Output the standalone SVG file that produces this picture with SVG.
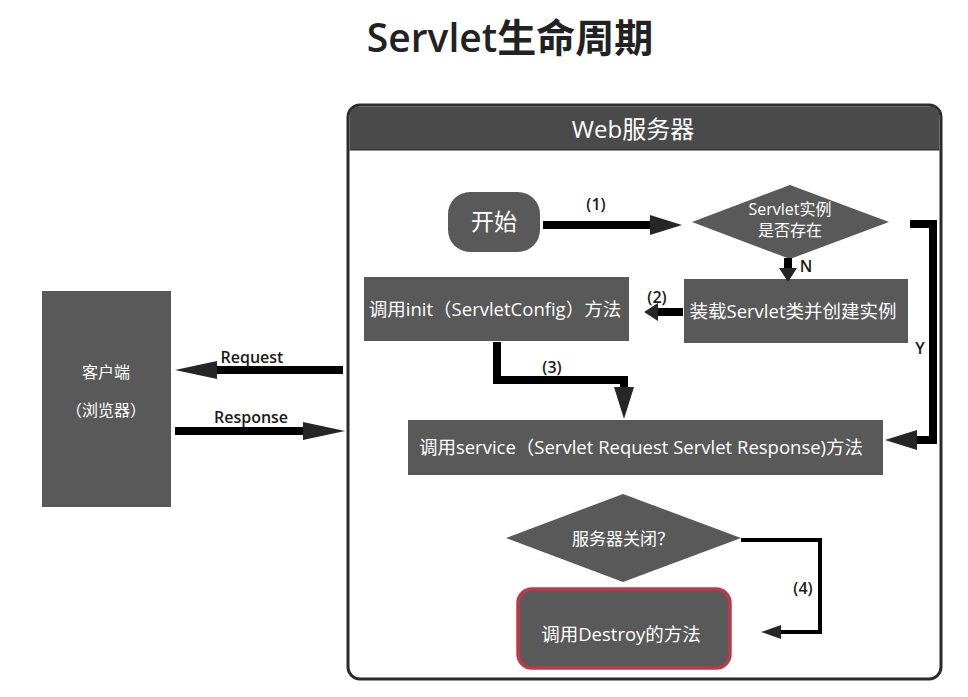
<svg xmlns="http://www.w3.org/2000/svg" width="968" height="697" viewBox="0 0 968 697">
  <style>
    .t { font-family: "Open Sans", "Noto Sans CJK SC", sans-serif; }
    .node { fill: #595959; }
    .wt { fill: #ffffff; text-anchor: middle; dominant-baseline: central; }
    .lbl { fill: #1a1a1a; font-size: 16px; font-weight: 600; text-anchor: middle; dominant-baseline: central; }
    .thick { fill: none; stroke: #000; stroke-width: 8; stroke-linejoin: miter; }
    .thin { fill: none; stroke: #000; stroke-width: 4; }
  </style>
  <defs>
    <marker id="h" markerUnits="userSpaceOnUse" markerWidth="32" markerHeight="22" refX="1" refY="11" orient="auto">
      <path d="M0,1 L32,11 L0,21 z" fill="#262626"/>
    </marker>
    <marker id="hs" markerUnits="userSpaceOnUse" markerWidth="42" markerHeight="18" refX="1" refY="9" orient="auto">
      <path d="M0,0 L42,9 L0,18 z" fill="#262626"/>
    </marker>
    <marker id="hn" markerUnits="userSpaceOnUse" markerWidth="14" markerHeight="18" refX="1" refY="9" orient="auto">
      <path d="M0,0 L14,9 L0,18 z" fill="#262626"/>
    </marker>
    <marker id="ht" markerUnits="userSpaceOnUse" markerWidth="20" markerHeight="14" refX="1" refY="7" orient="auto">
      <path d="M0,0 L20,7 L0,14 z" fill="#262626"/>
    </marker>
  </defs>

  <rect width="968" height="697" fill="#ffffff"/>

  <text class="t" x="510" y="52" font-size="39" font-weight="600" fill="#222" text-anchor="middle">Servlet生命周期</text>

  <g id="server">
    <rect x="348" y="105" width="593" height="574" rx="12" ry="12" fill="#ffffff" stroke="#2b2b2b" stroke-width="3"/>
    <path d="M349.5,150 V117 Q349.5,106.5 360,106.5 H929 Q939.5,106.5 939.5,117 V150 Z" fill="#4a4a4a"/>
    <line x1="349.5" y1="150" x2="939.5" y2="150" stroke="#2b2b2b" stroke-width="1"/>
    <text class="t wt" x="633" y="128" font-size="24">Web服务器</text>
  </g>

  <g id="client">
    <rect class="node" x="42" y="291" width="129" height="216"/>
    <text class="t wt" x="106" y="372" font-size="16">客户端</text>
    <text class="t wt" x="106" y="410" font-size="16">（浏览器）</text>
  </g>

  <g id="start">
    <rect class="node" x="448" y="192" width="92" height="60" rx="22" ry="22"/>
    <text class="t wt" x="494" y="221" font-size="23">开始</text>
  </g>

  <g id="exists">
    <polygon class="node" points="692,222 790,185 889,222 790,259"/>
    <text class="t wt" x="790" y="209" font-size="16">Servlet实例</text>
    <text class="t wt" x="790" y="230" font-size="16">是否存在</text>
  </g>

  <g id="load">
    <rect class="node" x="684" y="279" width="224" height="64"/>
    <text class="t wt" x="793" y="310" font-size="18.5">装载Servlet类并创建实例</text>
  </g>

  <g id="init">
    <rect class="node" x="364" y="277" width="265" height="64"/>
    <text class="t wt" x="495" y="308" font-size="18.5">调用init（ServletConfig）方法</text>
  </g>

  <g id="service">
    <rect class="node" x="408" y="420" width="475" height="55"/>
    <text class="t wt" x="641" y="446" font-size="18.5">调用service（Servlet Request Servlet Response)方法</text>
  </g>

  <g id="shutdown">
    <polygon class="node" points="506,538 623,494 741,538 623,582"/>
    <text class="t wt" x="623" y="538" font-size="17">服务器关闭？</text>
  </g>

  <g id="destroy">
    <rect class="node" x="518" y="589" width="212" height="79" rx="14" ry="14" stroke="#c0394b" stroke-width="3.5"/>
    <text class="t wt" x="621" y="633" font-size="18.5">调用Destroy的方法</text>
  </g>

  <g id="connectors">
    <path class="thick" d="M343,370 H216" marker-end="url(#hs)"/>
    <text class="t lbl" x="252" y="357">Request</text>
    <path class="thick" d="M175,431 H304" marker-end="url(#hs)"/>
    <text class="t lbl" x="251" y="417">Response</text>

    <path class="thick" d="M543,225 H651" marker-end="url(#h)"/>
    <text class="t lbl" x="596" y="204">(1)</text>

    <path class="thick" d="M910,224 H933 V440 H916" marker-end="url(#h)"/>
    <text class="t lbl" x="920" y="348">Y</text>

    <path class="thick" d="M788,258 V269" marker-end="url(#hn)"/>
    <text class="t lbl" x="806" y="266">N</text>

    <path class="thick" d="M683,312 H657" marker-end="url(#hn)"/>
    <text class="t lbl" x="657" y="297">(2)</text>

    <path class="thick" d="M497,342 V380 H624 V388" marker-end="url(#h)"/>
    <text class="t lbl" x="552" y="367">(3)</text>

    <path class="thin" d="M741,540 H820 V632 H780" marker-end="url(#ht)"/>
    <text class="t lbl" x="803" y="588">(4)</text>
  </g>
</svg>
